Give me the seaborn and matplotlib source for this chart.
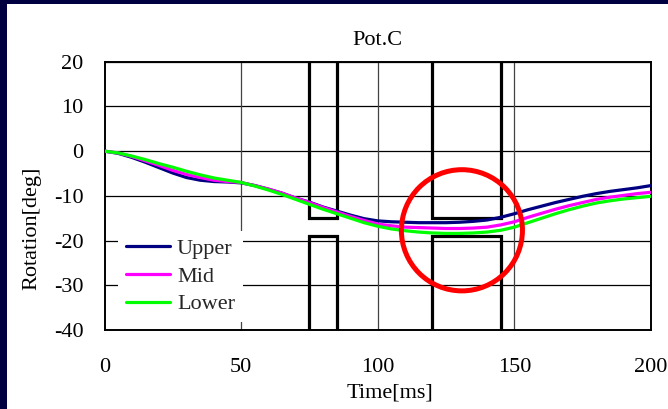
import matplotlib
matplotlib.use("Agg")
import matplotlib.pyplot as plt
from matplotlib.patches import Ellipse
from matplotlib.lines import Line2D
import pandas as pd
import seaborn as sns

# Rotation of the potentiometer at three mounting heights
time_ms = [0, 5, 10, 15, 20, 25, 30, 35, 40, 45, 50, 55, 60, 65, 70, 75, 80, 85,
           90, 95, 100, 105, 110, 115, 120, 125, 130, 135, 140, 145, 150, 155,
           160, 165, 170, 175, 180, 185, 190, 195, 200]
upper = [0, -0.5, -1.4, -2.5, -3.7, -4.9, -5.9, -6.5, -6.8, -6.9, -7.1, -7.7,
         -8.5, -9.4, -10.5, -11.4, -12.5, -13.4, -14.3, -15.1, -15.6, -15.8,
         -15.9, -16.0, -16.0, -16.0, -15.9, -15.7, -15.4, -14.8, -14.0, -13.1,
         -12.3, -11.5, -10.8, -10.1, -9.5, -9.0, -8.6, -8.2, -7.7]
mid = [0, -0.4, -1.2, -2.2, -3.2, -4.3, -5.2, -5.9, -6.5, -6.8, -7.0, -7.7,
       -8.5, -9.4, -10.5, -11.5, -12.6, -13.6, -14.6, -15.5, -16.3, -16.7,
       -17.0, -17.1, -17.2, -17.3, -17.3, -17.2, -17.0, -16.5, -15.8, -14.8,
       -13.9, -13.0, -12.2, -11.5, -10.8, -10.3, -9.9, -9.5, -9.2]
lower = [0, -0.4, -1.1, -1.9, -2.8, -3.6, -4.5, -5.3, -6.0, -6.5, -7.0, -7.8,
         -8.7, -9.7, -10.8, -11.9, -13.0, -14.0, -15.0, -16.0, -16.8, -17.4,
         -17.8, -18.1, -18.3, -18.4, -18.4, -18.3, -18.1, -17.7, -17.0, -16.0,
         -15.0, -14.0, -13.1, -12.3, -11.6, -11.1, -10.7, -10.4, -10.1]
series_names = ["Upper", "Mid", "Lower"]

# Gate windows (time span) with their upper and lower edges
gate_windows = [(75, 85), (120, 145)]
gate_top_edge = -15
gate_bottom_edge = -19

# Highlighted region
focus_center = (130.8, -17.7)
focus_size = (44.3, 27.1)

x_ticks = [0, 50, 100, 150, 200]
y_ticks = [20, 10, 0, -10, -20, -30, -40]

df = pd.DataFrame({
    "Time": time_ms * 3,
    "Rotation": upper + mid + lower,
    "Position": sum([[n] * len(time_ms) for n in series_names], []),
})

sns.set_style("white")
plt.rcParams["font.family"] = ["Liberation Serif", "DejaVu Serif"]
plt.rcParams["axes.unicode_minus"] = False

fig = plt.figure(figsize=(6.68, 4.09), dpi=100)
fig.patch.set_facecolor("#000040")

# white slide panel behind the chart
bg = fig.add_axes([7 / 668, 0, 1 - 7 / 668, 1 - 4 / 409], zorder=-10)
bg.set_facecolor("white")
bg.set_xticks([])
bg.set_yticks([])
for s in bg.spines.values():
    s.set_visible(False)

ax = fig.add_axes([104.5 / 668, 1 - 330 / 409, 546.5 / 668, 268.3 / 409])
ax.set_facecolor("white")

palette = {"Upper": "#000080", "Mid": "#FF00FF", "Lower": "#00FF00"}

# grid
for yv in y_ticks:
    ax.axhline(yv, color="black", lw=0.9, zorder=1)
for xv in x_ticks[1:-1]:
    ax.axvline(xv, color="#444444", lw=0.9, zorder=1)

# gates
y_min, y_max = min(y_ticks), max(y_ticks)
for x0, x1 in gate_windows:
    ax.plot([x0, x0, x1, x1], [y_max, gate_top_edge, gate_top_edge, y_max],
            color="black", lw=2.3, zorder=2, solid_joinstyle="miter")
    ax.plot([x0, x0, x1, x1], [y_min, gate_bottom_edge, gate_bottom_edge, y_min],
            color="black", lw=2.3, zorder=2, solid_joinstyle="miter")

sns.lineplot(data=df, x="Time", y="Rotation", hue="Position", palette=palette,
             hue_order=series_names, linewidth=2.3, ax=ax, zorder=3, legend=False)

ax.add_patch(Ellipse(focus_center, focus_size[0], focus_size[1], fill=False,
                     edgecolor="#FF0000", lw=3.6, zorder=5))

ax.set_xlim(0, 200)
ax.set_ylim(-40, 20)
ax.set_xticks(x_ticks)
ax.set_yticks(y_ticks)
ax.tick_params(direction="in", length=5, width=1, labelsize=16, color="black",
               labelcolor="black")
ax.tick_params(axis="x", pad=20)
ax.tick_params(axis="y", pad=15)
for s in ax.spines.values():
    s.set_visible(True)
    s.set_color("black")
    s.set_linewidth(1.4)

ax.set_title("Pot.C", fontsize=16, pad=12, color="black")
ax.set_xlabel("Time[ms]", fontsize=16, color="black")
ax.set_ylabel("Rotation[deg]", fontsize=16, color="black")
ax.xaxis.set_label_coords(0.522, -0.2)
ax.yaxis.set_label_coords(-0.115, 0.38)

handles = [Line2D([0], [0], color=palette[n], lw=2.3) for n in series_names]
leg = ax.legend(handles, series_names, loc="upper left",
                bbox_to_anchor=(0.0247, 0.37), borderaxespad=0, fontsize=16,
                frameon=True, fancybox=False, handlelength=2.0,
                handletextpad=0.3, labelspacing=0.32, borderpad=0.35)
leg.get_frame().set_facecolor("white")
leg.get_frame().set_edgecolor("none")
leg.get_frame().set_alpha(1)
leg.set_zorder(4)

fig.savefig("out.png", dpi=100, facecolor=fig.get_facecolor())
